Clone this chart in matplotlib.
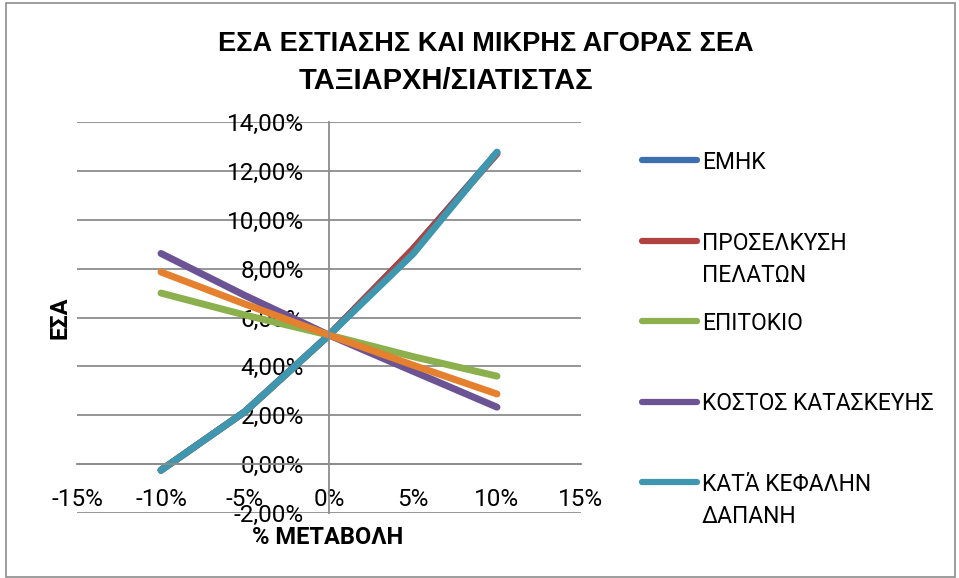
import matplotlib.pyplot as plt
from matplotlib import ticker
from matplotlib.lines import Line2D
from matplotlib.patches import Rectangle

# % change on the x axis, ΕΣΑ (%) on the y axis
change = [-10, -5, 0, 5, 10]

emhk = [-0.25, 2.15, 5.28, 8.8, 12.75]
proselkysi = [-0.25, 2.15, 5.28, 8.8, 12.70]
epitokio = [7.0, 6.1, 5.28, 4.4, 3.6]
kostos = [8.62, 6.9, 5.28, 3.8, 2.33]
kefali = [-0.25, 2.15, 5.28, 8.6, 12.77]
extra = [7.86, 6.55, 5.28, 4.05, 2.87]  # orange series, no legend entry

names = ['ΕΜΗΚ', 'ΠΡΟΣΕΛΚΥΣΗ\nΠΕΛΑΤΩΝ', 'ΕΠΙΤΟΚΙΟ', 'ΚΟΣΤΟΣ ΚΑΤΑΣΚΕΥΗΣ', 'ΚΑΤΆ ΚΕΦΑΛΗΝ\nΔΑΠΑΝΗ']
colors = ['#3d6eb0', '#b0433f', '#8bb04d', '#6b5394', '#3e97af']
orange = '#e5802f'

x_ticks = [-15, -10, -5, 0, 5, 10, 15]
y_ticks = [-2, 0, 2, 4, 6, 8, 10, 12, 14]

plt.rcParams['font.family'] = ['Roboto', 'DejaVu Sans']

W, H = 959, 578
fig = plt.figure(figsize=(W / 100, H / 100), dpi=100)


def fx(px):
    return px / W


def fy(py):
    return 1 - py / H


ax = fig.add_axes([fx(77), fy(513), fx(581) - fx(77), fy(122) - fy(513)])

series = [emhk, proselkysi, epitokio, kostos, kefali]
for vals, c in zip(series, colors):
    ax.plot(change, vals, color=c, lw=5, solid_capstyle='round', solid_joinstyle='round')
ax.plot(change, extra, color=orange, lw=5, solid_capstyle='round', solid_joinstyle='round')

ax.set_xlim(-15, 15)
ax.set_ylim(-2, 14)
ax.set_xticks(x_ticks)
ax.set_yticks(y_ticks)
ax.xaxis.set_major_formatter(ticker.FuncFormatter(lambda v, p: f'{v:.0f}%'))
ax.yaxis.set_major_formatter(ticker.FuncFormatter(lambda v, p: f'{v:.2f}%'.replace('.', ',')))

grid_c = '#8c8c8c'
ax.grid(True, axis='y', color=grid_c, lw=1.3)
ax.set_axisbelow(True)
for s in ['top', 'right']:
    ax.spines[s].set_visible(False)
ax.spines['left'].set_position(('data', 0))
ax.spines['bottom'].set_position(('data', 0))
ax.spines['left'].set_color(grid_c)
ax.spines['bottom'].set_color(grid_c)
ax.spines['left'].set_linewidth(1.3)
ax.spines['bottom'].set_linewidth(1.3)
ax.tick_params(axis='y', length=0, pad=18, labelsize=17.5)
ax.tick_params(axis='x', length=0, pad=17, labelsize=17.5)

# titles
title_font = ['Liberation Sans', 'DejaVu Sans']
fig.text(fx(486), fy(44), 'ΕΣΑ ΕΣΤΙΑΣΗΣ ΚΑΙ ΜΙΚΡΗΣ ΑΓΟΡΑΣ ΣΕΑ', ha='center', va='center',
         fontsize=19.5, fontweight='bold', family=title_font)
fig.text(fx(446), fy(81), 'ΤΑΞΙΑΡΧΗ/ΣΙΑΤΙΣΤΑΣ', ha='center', va='center',
         fontsize=21, fontweight='bold', family=title_font)
fig.text(fx(60), fy(318), 'ΕΣΑ', rotation=90, ha='center', va='center', fontsize=17, fontweight='bold')
fig.text(fx(328), fy(537), '% ΜΕΤΑΒΟΛΗ', ha='center', va='center', fontsize=17, fontweight='bold')

# legend drawn by hand so the handle sits on the first text line
for i, (name, c) in enumerate(zip(names, colors)):
    yc = 160 + 80.5 * i
    fig.add_artist(Line2D([fx(642), fx(697)], [fy(yc), fy(yc)], color=c, lw=4.5,
                          solid_capstyle='round'))
    for k, line in enumerate(name.split('\n')):
        fig.text(fx(702), fy(yc + 32 * k), line, ha='left', va='center_baseline', fontsize=16.5)

fig.add_artist(Rectangle((fx(6), fy(577)), fx(955) - fx(6), fy(3) - fy(577), fill=False,
                         edgecolor='#8c8c8c', lw=1.2, transform=fig.transFigure))

plt.savefig('out.png', dpi=100)
